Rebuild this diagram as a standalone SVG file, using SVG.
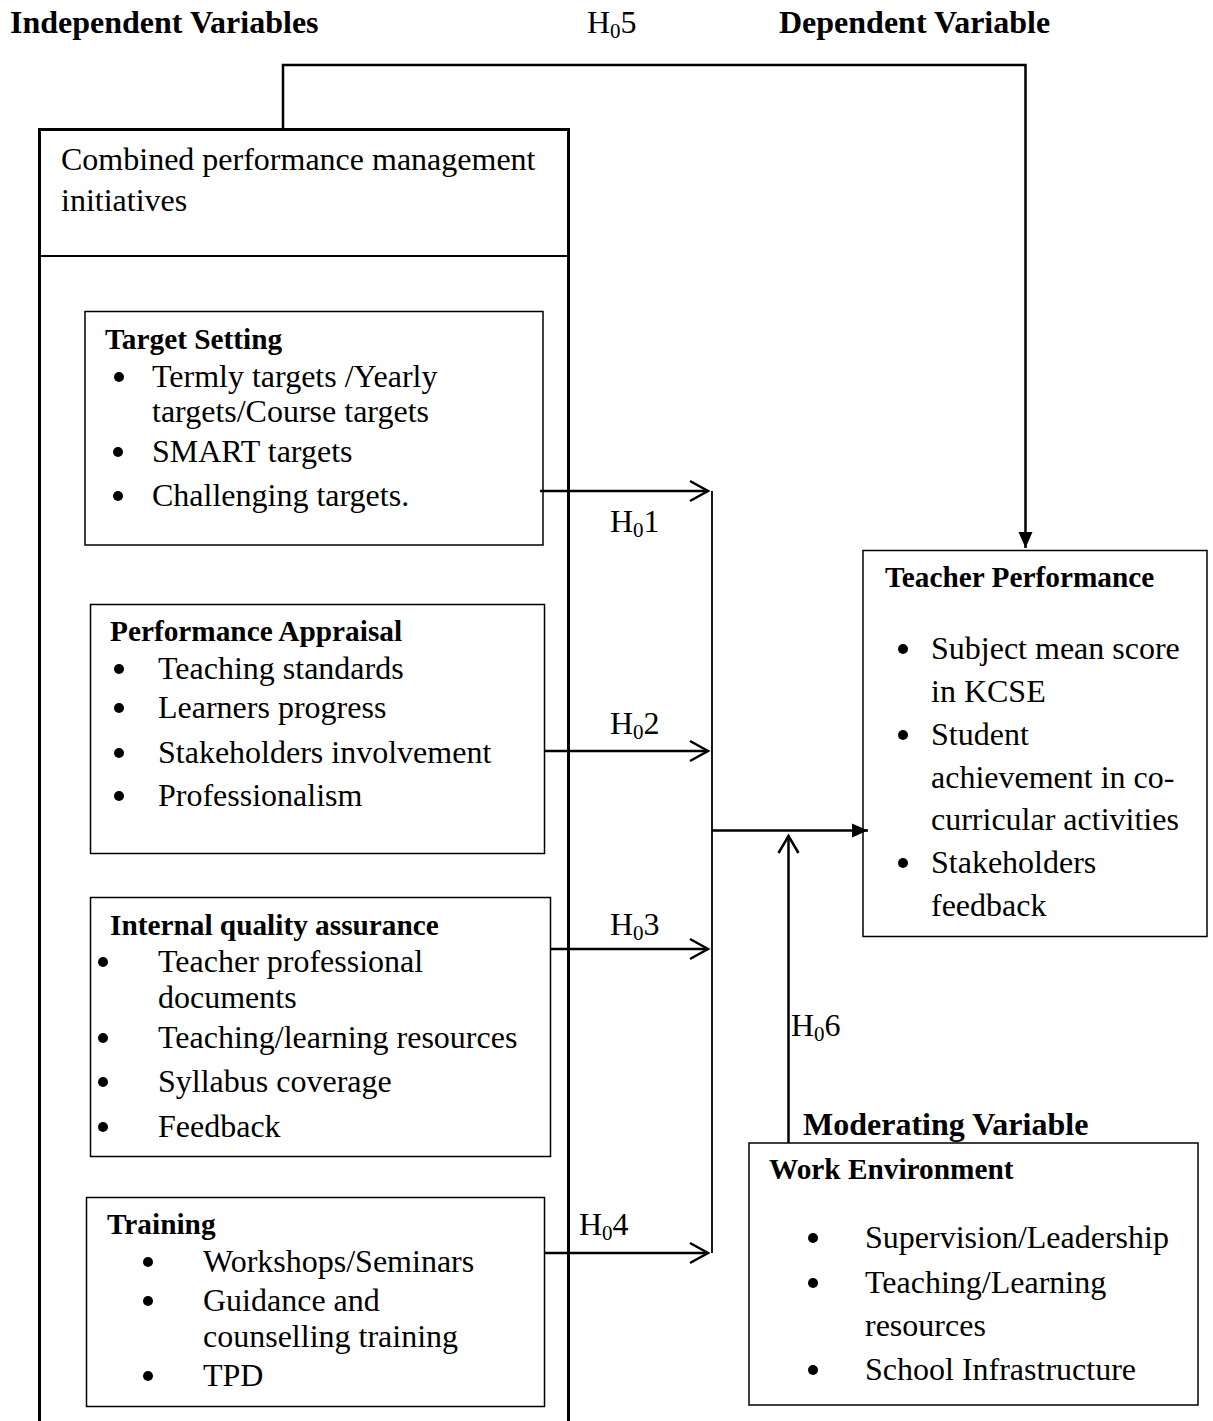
<svg xmlns="http://www.w3.org/2000/svg" width="1213" height="1421" viewBox="0 0 1213 1421">
<style>
text{font-family:"Liberation Serif","Times New Roman",serif;fill:#000}
.t{font-size:32px}
.h{font-size:29.3px;font-weight:bold}
.ttl{font-size:32px;font-weight:bold}
.sub{font-size:21px}
.box{fill:none;stroke:#000;stroke-width:1.5}
.ln{fill:none;stroke:#000;stroke-width:2.5}
.thin{fill:none;stroke:#000;stroke-width:1.8}
.open{fill:none;stroke:#000;stroke-width:2.5;stroke-linejoin:miter}
.b{fill:#000}
</style>
<defs>
<marker id="fill" markerWidth="18" markerHeight="16" refX="16" refY="8" orient="auto" markerUnits="userSpaceOnUse">
<path d="M0,1 L16,8 L0,15 Z" fill="#000"/>
</marker>
</defs>
<rect width="1213" height="1421" fill="#fff"/>
<g id="titles">
<text class="ttl" x="10" y="33">Independent Variables</text>
<text class="t" x="587" y="33">H<tspan class="sub" dy="5">0</tspan><tspan dy="-5">5</tspan></text>
<text class="ttl" x="779" y="33">Dependent Variable</text>
</g>
<g id="combined">
<path d="M39.5,1421 V129.5 H568.5 V1421" fill="none" stroke="#000" stroke-width="3"/>
<line x1="39" y1="256" x2="569" y2="256" stroke="#000" stroke-width="2"/>
<text class="t" x="61" y="170">Combined performance management</text>
<text class="t" x="61" y="211">initiatives</text>
</g>
<g id="target-setting">
<rect class="box" x="85" y="311.5" width="458" height="233.5"/>
<text class="h" x="105" y="349">Target Setting</text>
<circle class="b" cx="119" cy="377" r="5"/><text class="t" x="152" y="387">Termly targets /Yearly</text>
<text class="t" x="152" y="422">targets/Course targets</text>
<circle class="b" cx="118" cy="452" r="5"/><text class="t" x="152" y="462">SMART targets</text>
<circle class="b" cx="118" cy="496" r="5"/><text class="t" x="152" y="506">Challenging targets.</text>
</g>
<g id="performance-appraisal">
<rect class="box" x="90.5" y="604.5" width="454" height="249"/>
<text class="h" x="110" y="641">Performance Appraisal</text>
<circle class="b" cx="119" cy="669" r="5"/><text class="t" x="158" y="679">Teaching standards</text>
<circle class="b" cx="119" cy="708" r="5"/><text class="t" x="158" y="718">Learners progress</text>
<circle class="b" cx="119" cy="753" r="5"/><text class="t" x="158" y="763">Stakeholders involvement</text>
<circle class="b" cx="119" cy="796" r="5"/><text class="t" x="158" y="806">Professionalism</text>
</g>
<g id="internal-quality-assurance">
<rect class="box" x="90.5" y="897.5" width="460" height="259"/>
<text class="h" x="110" y="935">Internal quality assurance</text>
<circle class="b" cx="103" cy="962" r="5"/><text class="t" x="158" y="972">Teacher professional</text>
<text class="t" x="158" y="1008">documents</text>
<circle class="b" cx="103" cy="1038" r="5"/><text class="t" x="158" y="1048">Teaching/learning resources</text>
<circle class="b" cx="103" cy="1082" r="5"/><text class="t" x="158" y="1092">Syllabus coverage</text>
<circle class="b" cx="103" cy="1127" r="5"/><text class="t" x="158" y="1137">Feedback</text>
</g>
<g id="training">
<rect class="box" x="86.5" y="1197.5" width="458" height="209"/>
<text class="h" x="107" y="1234">Training</text>
<circle class="b" cx="148" cy="1262" r="5"/><text class="t" x="203" y="1272">Workshops/Seminars</text>
<circle class="b" cx="148" cy="1301" r="5"/><text class="t" x="203" y="1311">Guidance and</text>
<text class="t" x="203" y="1347">counselling training</text>
<circle class="b" cx="148" cy="1376" r="5"/><text class="t" x="203" y="1386">TPD</text>
</g>
<g id="teacher-performance">
<rect class="box" x="863" y="550.5" width="344" height="386"/>
<text class="h" x="885" y="587">Teacher Performance</text>
<circle class="b" cx="903" cy="649" r="5"/><text class="t" x="931" y="659">Subject mean score</text>
<text class="t" x="931" y="702">in KCSE</text>
<circle class="b" cx="903" cy="735" r="5"/><text class="t" x="931" y="745">Student</text>
<text class="t" x="931" y="788">achievement in co-</text>
<text class="t" x="931" y="830">curricular activities</text>
<circle class="b" cx="903" cy="863" r="5"/><text class="t" x="931" y="873">Stakeholders</text>
<text class="t" x="931" y="916">feedback</text>
</g>
<g id="work-environment">
<text class="ttl" x="803" y="1135">Moderating Variable</text>
<rect class="box" x="749" y="1143" width="449" height="262"/>
<text class="h" x="769" y="1179">Work Environment</text>
<circle class="b" cx="813" cy="1238" r="5"/><text class="t" x="865" y="1248">Supervision/Leadership</text>
<circle class="b" cx="813" cy="1283" r="5"/><text class="t" x="865" y="1293">Teaching/Learning</text>
<text class="t" x="865" y="1336">resources</text>
<circle class="b" cx="813" cy="1370" r="5"/><text class="t" x="865" y="1380">School Infrastructure</text>
</g>
<g id="connectors">
<path class="ln" d="M283,128 V65 H1025.5 V548" marker-end="url(#fill)"/>
<line class="thin" x1="712" y1="491" x2="712" y2="1253"/>
<line class="ln" x1="540" y1="491" x2="708" y2="491"/>
<path class="open" d="M690,481 L708,491 L690,501"/>
<line class="ln" x1="545" y1="751" x2="708" y2="751"/>
<path class="open" d="M690,741 L708,751 L690,761"/>
<line class="ln" x1="551" y1="949" x2="708" y2="949"/>
<path class="open" d="M690,939 L708,949 L690,959"/>
<line class="ln" x1="545" y1="1253" x2="708" y2="1253"/>
<path class="open" d="M690,1243 L708,1253 L690,1263"/>
<line class="ln" x1="712" y1="830.5" x2="868" y2="830.5" marker-end="url(#fill)"/>
<line class="ln" x1="788.5" y1="1143" x2="788.5" y2="836"/>
<path class="open" d="M778.5,853 L788.5,836 L798.5,853"/>
<text class="t" x="610" y="532">H<tspan class="sub" dy="5">0</tspan><tspan dy="-5">1</tspan></text>
<text class="t" x="610" y="734">H<tspan class="sub" dy="5">0</tspan><tspan dy="-5">2</tspan></text>
<text class="t" x="610" y="935">H<tspan class="sub" dy="5">0</tspan><tspan dy="-5">3</tspan></text>
<text class="t" x="579" y="1235">H<tspan class="sub" dy="5">0</tspan><tspan dy="-5">4</tspan></text>
<text class="t" x="791" y="1036">H<tspan class="sub" dy="5">0</tspan><tspan dy="-5">6</tspan></text>
</g>
</svg>
